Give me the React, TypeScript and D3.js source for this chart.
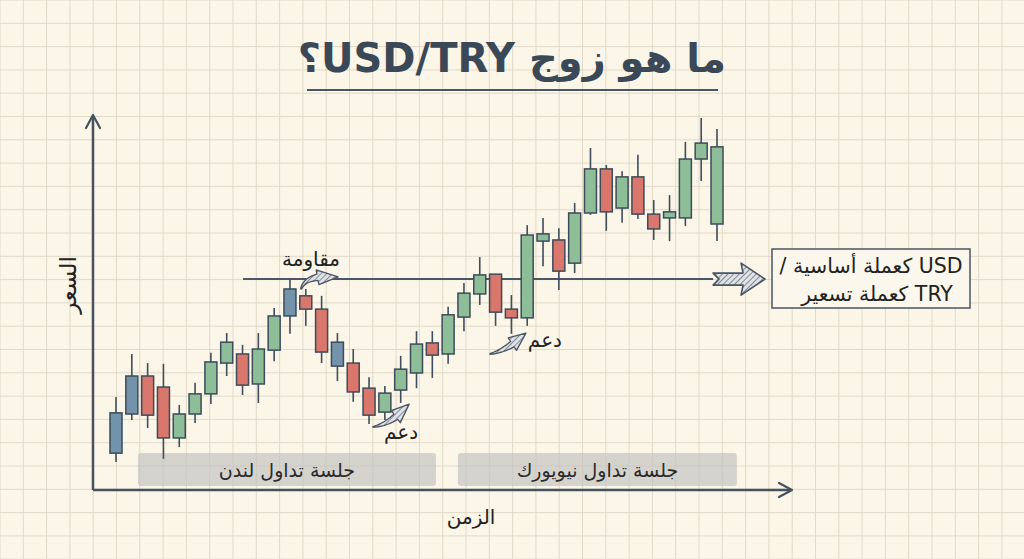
import React from "react";
import * as d3 from "d3";

// ---- data ----
const opens = [9.7, 20.0, 30.0, 27.1, 13.7, 20.0, 25.3, 33.4, 35.8, 27.9, 36.8, 45.8, 51.1, 47.6, 38.9, 33.4, 26.8, 20.5, 26.3, 30.8, 38.7, 35.8, 45.5, 51.6, 56.8, 47.6, 45.3, 65.5, 65.8, 59.7, 72.9, 84.5, 74.2, 82.4, 72.6, 71.6, 71.6, 87.1, 70.0];
const highs = [24.5, 35.8, 33.4, 33.2, 22.4, 28.2, 36.1, 41.3, 38.2, 41.3, 47.9, 55.3, 52.9, 51.1, 41.3, 37.1, 29.7, 27.4, 35.3, 41.8, 41.8, 48.2, 54.5, 61.3, 56.8, 51.3, 69.7, 71.6, 68.9, 75.5, 90.0, 85.5, 83.9, 88.2, 76.3, 77.6, 91.6, 97.9, 95.0];
const lows = [7.4, 18.4, 16.3, 8.2, 11.3, 17.6, 22.6, 30.0, 25.0, 22.9, 33.9, 41.1, 43.2, 33.4, 28.7, 23.2, 17.4, 18.4, 22.9, 26.8, 29.5, 33.2, 41.8, 48.7, 43.2, 41.1, 43.2, 58.9, 52.6, 57.1, 72.4, 68.2, 70.3, 71.3, 65.8, 65.5, 69.5, 81.3, 65.5];
const closes = [20.3, 30.0, 19.7, 13.7, 20.0, 25.3, 33.7, 38.9, 27.6, 37.1, 45.8, 52.9, 47.6, 36.3, 32.6, 25.8, 19.7, 25.5, 31.8, 38.4, 35.5, 46.1, 51.8, 56.6, 46.8, 45.3, 67.1, 67.4, 57.6, 72.9, 84.5, 73.2, 82.4, 72.6, 68.7, 73.2, 87.1, 91.3, 90.3];
const tones = ["b", "b", "r", "r", "g", "g", "g", "g", "r", "g", "g", "b", "r", "r", "b", "r", "r", "g", "g", "g", "r", "g", "g", "g", "r", "r", "g", "g", "r", "g", "g", "r", "g", "r", "r", "g", "g", "g", "g"];

const resistanceLevel = 55.5;
const resistanceStart = 9.03;
const resistanceEnd = 38.75;

const sessionLabels = ["جلسة تداول لندن", "جلسة تداول نيويورك"];
const sessionStarts = [2.39, 22.62];
const sessionEnds = [21.23, 40.26];

const titleText = "ما هو زوج USD/TRY؟";
const yLabel = "السعر";
const xLabel = "الزمن";
const resistanceLabel = "مقاومة";
const supportLabel = "دعم";
const noteLines = ["USD كعملة أساسية /", "TRY كعملة تسعير"];

// annotation arrows in (index, price) units: start, control, end
const arrowDefs = [
  [[12.7, 52.9], [13.0, 56.8], [15.04, 56.1]],
  [[17.25, 16.6], [18.45, 17.4], [19.53, 22.6]],
  [[24.65, 35.8], [25.79, 36.8], [26.92, 41.3]],
];
const labelDefs = [
  { text: resistanceLabel, idx: 13.33, price: 60.8 },
  { text: supportLabel, idx: 19.02, price: 15.3 },
  { text: supportLabel, idx: 28.12, price: 39.5 },
];

const W = 1024;
const H = 559;
const FONT = "'DejaVu Sans', 'Noto Sans', sans-serif";
const INK = "#45525f";
const toneFill: Record<string, string> = { b: "#7393ab", r: "#d9776c", g: "#8dbe98" };

function swooshPath(p0: number[], p1: number[], p2: number[], shaftW = 3.2, headW = 7.5, tb = 0.62) {
  const B = (t: number) => [
    (1 - t) * (1 - t) * p0[0] + 2 * (1 - t) * t * p1[0] + t * t * p2[0],
    (1 - t) * (1 - t) * p0[1] + 2 * (1 - t) * t * p1[1] + t * t * p2[1],
  ];
  const N = (t: number) => {
    const dx = 2 * (1 - t) * (p1[0] - p0[0]) + 2 * t * (p2[0] - p1[0]);
    const dy = 2 * (1 - t) * (p1[1] - p0[1]) + 2 * t * (p2[1] - p1[1]);
    const l = Math.hypot(dx, dy) || 1;
    return [-dy / l, dx / l];
  };
  const left: number[][] = [];
  const right: number[][] = [];
  const n = 16;
  for (let i = 0; i <= n; i++) {
    const t = (tb * i) / n;
    const w = 0.4 + (shaftW - 0.4) * (t / tb);
    const b = B(t);
    const nn = N(t);
    left.push([b[0] + nn[0] * w, b[1] + nn[1] * w]);
    right.push([b[0] - nn[0] * w, b[1] - nn[1] * w]);
  }
  const bb = B(tb);
  const nb = N(tb);
  const hl = [bb[0] + nb[0] * headW, bb[1] + nb[1] * headW];
  const hr = [bb[0] - nb[0] * headW, bb[1] - nb[1] * headW];
  const tip = B(1);
  const pts = [...left, hl, tip, hr, ...right.reverse()];
  return "M" + pts.map((p) => p[0].toFixed(1) + "," + p[1].toFixed(1)).join("L") + "Z";
}

export default function App() {
  const x = d3.scaleLinear().domain([1, 39]).range([116, 717]);
  const y = d3.scaleLinear().domain([0, 100]).range([490, 110]);
  const bodyW = 12;
  const grid = 23.3;
  const gx = d3.range(0, W + 1, grid);
  const gy = d3.range(0, H + 1, grid);

  const yRes = y(resistanceLevel);
  const ax0 = x(resistanceEnd);

  return (
    <svg width={W} height={H} style={{ position: "absolute", left: 0, top: 0, display: "block" }} fontFamily={FONT}>
      <defs>
        <pattern id="hatch" width="4" height="4" patternUnits="userSpaceOnUse" patternTransform="rotate(45)">
          <rect width="4" height="4" fill="#dfe2e6" />
          <line x1="0" y1="0" x2="0" y2="4" stroke="#6d7582" strokeWidth="1.6" />
        </pattern>
      </defs>
      <rect width={W} height={H} fill="#fbf6e8" />
      {gx.map((v, i) => (
        <line key={"gx" + i} x1={v} x2={v} y1={0} y2={H} stroke="#e2d9c7" strokeWidth={1} />
      ))}
      {gy.map((v, i) => (
        <line key={"gy" + i} x1={0} x2={W} y1={v} y2={v} stroke="#e2d9c7" strokeWidth={1} />
      ))}

      {/* title */}
      <text x={512} y={72} textAnchor="middle" fontSize={40} fontWeight="bold" fill="#3b4857" style={{ direction: "rtl" }}>
        {titleText}
      </text>
      <line x1={307} x2={718} y1={90} y2={90} stroke="#4a5766" strokeWidth={2} />

      {/* sessions */}
      {sessionLabels.map((s, i) => (
        <g key={"s" + i}>
          <rect x={x(sessionStarts[i])} y={453} width={x(sessionEnds[i]) - x(sessionStarts[i])} height={33} rx={3} fill="#c2c2c0" opacity={0.68} />
          <text x={(x(sessionStarts[i]) + x(sessionEnds[i])) / 2} y={477} textAnchor="middle" fontSize={19} fill="#2a2a2a" style={{ direction: "rtl" }}>
            {s}
          </text>
        </g>
      ))}

      {/* resistance line */}
      <line x1={x(resistanceStart)} x2={ax0} y1={yRes} y2={yRes} stroke="#4a5766" strokeWidth={2} />
      <path
        d={`M${ax0},${yRes - 6}L${ax0 + 30},${yRes - 6}L${ax0 + 28},${yRes - 16}L${ax0 + 52},${yRes}L${ax0 + 28},${yRes + 16}L${ax0 + 30},${yRes + 6}L${ax0},${yRes + 6}L${ax0 + 6},${yRes}Z`}
        fill="url(#hatch)"
        stroke="#4a5563"
        strokeWidth={1.6}
        strokeLinejoin="round"
      />

      {/* candles */}
      {opens.map((o, i) => {
        const cx = x(i + 1);
        const top = y(Math.max(o, closes[i]));
        const bot = y(Math.min(o, closes[i]));
        return (
          <g key={"c" + i}>
            <line x1={cx} x2={cx} y1={y(highs[i])} y2={y(lows[i])} stroke="#3f4d5c" strokeWidth={1.6} />
            <rect x={cx - bodyW / 2} y={top} width={bodyW} height={Math.max(bot - top, 2)} fill={toneFill[tones[i]]} stroke="#3d4b5a" strokeWidth={1.5} />
          </g>
        );
      })}

      {/* annotation arrows */}
      {arrowDefs.map((a, i) => {
        const pts = a.map((p) => [x(p[0]), y(p[1])]);
        return <path key={"a" + i} d={swooshPath(pts[0], pts[1], pts[2])} fill="url(#hatch)" stroke="#4a5563" strokeWidth={1.3} strokeLinejoin="round" />;
      })}
      {labelDefs.map((l, i) => (
        <text key={"l" + i} x={x(l.idx)} y={y(l.price) + 7} textAnchor="middle" fontSize={20} fill="#222" style={{ direction: "rtl" }}>
          {l.text}
        </text>
      ))}

      {/* note box */}
      <rect x={772} y={249} width={198} height={59} fill="#fbf7ec" stroke="#4a5563" strokeWidth={1.5} />
      {noteLines.map((t, i) => (
        <text key={"n" + i} x={[871, 877][i]} y={273 + i * 28} textAnchor="middle" fontSize={20.5} fill="#222" style={{ direction: "rtl" }}>
          {t}
        </text>
      ))}

      {/* axes */}
      <line x1={93} x2={93} y1={116} y2={490} stroke={INK} strokeWidth={2.5} />
      <line x1={93} x2={791} y1={490} y2={490} stroke={INK} strokeWidth={2.5} />
      <path d="M86,128L93,115L100,128" fill="none" stroke={INK} strokeWidth={2.2} strokeLinecap="round" strokeLinejoin="round" />
      <path d="M779,483L792,490L779,497" fill="none" stroke={INK} strokeWidth={2.2} strokeLinecap="round" strokeLinejoin="round" />
      <text transform="translate(76,285) rotate(-90)" textAnchor="middle" fontSize={23} fill="#222" style={{ direction: "rtl" }}>
        {yLabel}
      </text>
      <text x={471} y={524} textAnchor="middle" fontSize={20} fill="#222" style={{ direction: "rtl" }}>
        {xLabel}
      </text>
    </svg>
  );
}
